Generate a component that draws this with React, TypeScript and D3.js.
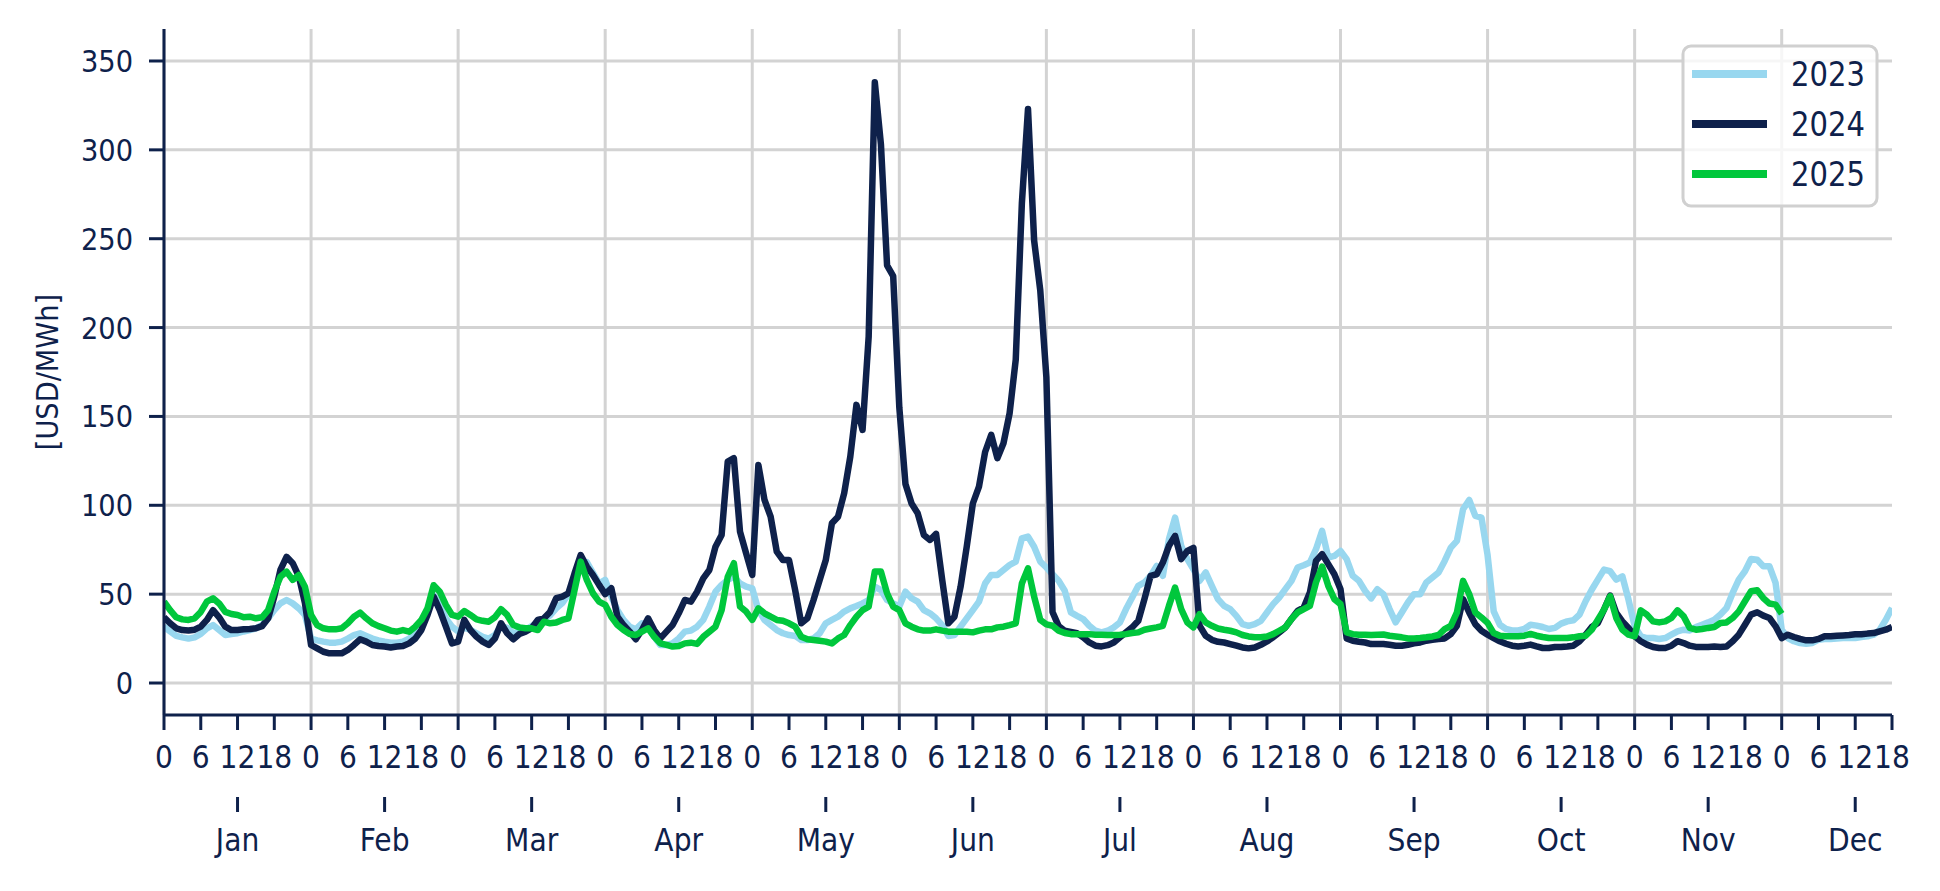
import * as d3 from "d3";
import { useEffect, useRef } from "react";

const months = ["Jan", "Feb", "Mar", "Apr", "May", "Jun", "Jul", "Aug", "Sep", "Oct", "Nov", "Dec"];
const hourTicks = [0, 6, 12, 18];
const yTicks = [0, 50, 100, 150, 200, 250, 300, 350];
const years = ["2023", "2024", "2025"];
const colors = ["#98d7ef", "#0e214b", "#00c73c"];

// average price by hour of day, one row per month (hours 0..23)
const prices2023 = [
  31.7, 29, 26.5, 25.7, 25, 25.7, 27.6, 30.8, 32.6, 29.8, 27, 27.6, 28, 29, 29.8, 30.8, 32.6, 36.4, 41, 44.8, 46.7, 44.8, 42, 38.3,
  25, 24, 23.3, 22.7, 22.7, 23.3, 25, 27, 28, 26.5, 25, 24, 23.3, 22.7, 22.7, 23.3, 25, 28, 32.6, 41, 49.5, 44, 36.4, 31.7,
  29, 31, 30, 28, 26, 25, 27, 32, 31, 28, 29, 30, 32, 34, 36, 38, 42, 45, 50, 60, 66, 68, 62, 56,
  58, 48.6, 41, 35.5, 31.7, 30.2, 33.6, 31.7, 26, 21.4, 21.4, 22.3, 25.1, 28.9, 29.5, 31.7, 35.5, 43, 51.4, 55.2, 58, 59.8, 56, 54.2,
  53.3, 41, 35.5, 32.6, 29.8, 28, 27, 26.5, 24.2, 24.2, 25.1, 28, 33.6, 35.5, 37.3, 40.2, 42, 43.3, 44.8, 46.7, 54.2, 52.3, 46.7, 44.8,
  43, 51.4, 47.7, 45.8, 41, 39.2, 36.4, 32.6, 26.5, 27, 31.7, 36.4, 41, 45.8, 56, 60.8, 60.8, 63.6, 66.4, 68.3, 81.4, 82.4, 76.7, 68.3,
  65, 61.2, 57.5, 51.9, 39.7, 37.8, 36, 32.2, 29.4, 28.5, 29.4, 31.3, 34.1, 41.6, 48.1, 54.7, 56.6, 60.3, 65.9, 60.3, 80.9, 93.1, 77.2, 69.7,
  64, 57.5, 62.2, 54.7, 47.2, 43.4, 41.6, 37.8, 33.1, 32.2, 33.1, 35, 39.7, 44.4, 48.1, 52.8, 57.5, 65, 66.3, 67.8, 75.3, 85.6, 70.6, 71.5,
  74.3, 69.7, 60.3, 57.5, 51.9, 47.6, 52.8, 50, 41.6, 34.1, 39.7, 45.3, 50, 50, 56.6, 59.4, 62.2, 68.7, 76.2, 80, 97.8, 103, 94, 93.1,
  72, 40.3, 32.8, 30.4, 29.6, 29.6, 30.4, 32.8, 32.3, 31.5, 30.4, 31, 33.4, 34.7, 35.3, 38.5, 46, 52.5, 58.2, 63.8, 62.9, 58.2, 60, 46.9,
  31.9, 26.3, 25.3, 25.3, 24.8, 25.3, 27.2, 29.1, 30, 29.6, 31.5, 32.8, 34.1, 35.6, 38.5, 42.2, 50.7, 58.2, 62.9, 69.8, 69.4, 65.7, 65.7, 56.3,
  30, 25.3, 23.5, 22.5, 22.1, 22.5, 24.4, 24.8, 24.8, 25, 25.3, 25.3, 25.3, 25.9, 26.3, 27.2, 30, 35.6, 42.2,
];

const prices2024 = [
  37, 33.6, 30.8, 29.8, 29.5, 30, 31.7, 35.5, 41, 37, 31.7, 29.8, 29.8, 30.2, 30.4, 30.8, 32, 36.4, 48.6, 63.6, 71, 67.4, 60, 45,
  21.4, 19.5, 17.6, 16.7, 16.7, 16.7, 18.6, 21.4, 24.6, 23.3, 21.4, 20.8, 20.5, 20, 20.5, 20.8, 22.3, 25, 29.8, 38.3, 48.6, 41, 31.7, 22.3,
  23.3, 35.5, 29.8, 26, 23.3, 21.4, 25, 33.6, 28, 24.6, 27.6, 28.9, 30.8, 35.5, 36.4, 40, 47.7, 48.6, 50.5, 61.7, 72, 65.5, 60.8, 55.2,
  50, 53.3, 37.3, 32.6, 28.9, 24.6, 29.8, 36.4, 29.8, 25.1, 28.9, 32.6, 39.2, 46.7, 45.8, 51.4, 58.9, 63.6, 76.7, 83.3, 124.6, 126.5, 85.2, 73,
  60.8, 122.7, 103, 93.6, 73.9, 69.2, 69.2, 52.3, 33.6, 36.4, 46.7, 58, 69.2, 89.9, 93.6, 106.8, 127.4, 156.5, 142.4, 195, 338, 303, 235, 229,
  155, 112, 101, 95.5, 83.3, 80.5, 83.9, 58, 33.6, 37.3, 54.2, 76.7, 101, 110.5, 130, 139.6, 126.5, 134.9, 151.8, 182, 270, 323, 249, 221,
  172, 40, 32, 29.4, 28.8, 28.1, 25.7, 22.8, 21, 20.6, 21.3, 22.8, 25.7, 28.5, 31.3, 35, 47.2, 60.3, 61.2, 67.8, 77.2, 82.8, 69.7, 74.3,
  76, 32.2, 26.6, 24.3, 23.2, 22.8, 21.9, 21, 20, 19.5, 20, 21.5, 23.4, 25.7, 28.5, 31.3, 36, 40.6, 42.5, 50.9, 68.7, 72.5, 66.9, 61.2,
  52.8, 25.1, 23.8, 23.2, 22.8, 21.9, 21.9, 21.9, 21.5, 21, 21, 21.5, 22.3, 22.8, 23.8, 24.3, 24.7, 25.1, 27.5, 32.2, 47.2, 39.7, 33.1, 29.4,
  27.2, 25.3, 23.5, 22.1, 21, 20.6, 21, 21.6, 20.6, 19.7, 19.7, 20.3, 20.3, 20.6, 21, 23.5, 27.2, 31.5, 33.8, 41.3, 49.2, 39.4, 34.7, 31,
  26.3, 23.5, 21.6, 20.3, 19.7, 19.7, 21, 23.5, 22.5, 21, 20.3, 20.3, 20.3, 20.6, 20.3, 20.6, 23.5, 27.2, 32.8, 38.5, 39.8, 37.9, 36.6, 31.9,
  25.3, 27.2, 25.9, 24.8, 24, 24, 24.8, 26.3, 26.3, 26.6, 26.8, 27, 27.4, 27.4, 27.8, 28.1, 29.1, 30, 31.5,
];

const prices2025 = [
  45.8, 41, 37, 35.8, 35.5, 36.4, 40, 45.8, 47.7, 44.8, 40, 38.8, 38.3, 37, 37.3, 36.4, 37, 41, 51.4, 59.8, 62.7, 58, 60.8, 54.2,
  38.3, 32.6, 30.8, 30.2, 30.2, 30.8, 33.6, 37.3, 39.6, 36.4, 33.6, 32, 30.8, 29.5, 28.9, 29.8, 28.9, 31.7, 35.5, 42, 55, 51.4, 44, 38.3,
  37.3, 40.5, 38.3, 35.8, 35, 34.5, 37, 41.5, 38.3, 32.6, 31.3, 30.8, 30.8, 29.8, 34.5, 33.6, 34, 35.5, 36.4, 52.3, 68.3, 58, 50.5, 45.8,
  44, 37.3, 32.6, 29.8, 27.6, 27, 28.9, 30.8, 26, 22.3, 21.4, 20.5, 20.8, 22.3, 22.7, 22, 26, 28.9, 31.7, 41, 59.8, 67.4, 43, 40.2,
  35.5, 42, 39.2, 37.3, 35.5, 35, 33.6, 31.7, 26, 24.6, 24.2, 23.8, 23.3, 22.3, 25.1, 27, 32.6, 37.3, 41, 43, 62.7, 62.7, 50.5, 43,
  41, 33.6, 31.7, 30.2, 29.5, 29.5, 30.2, 29.5, 28.9, 28.9, 28.9, 28.9, 28.5, 29.5, 30.2, 30.2, 31.3, 31.7, 32.6, 33.6, 56, 64.5, 48.6, 35.5,
  33, 32.2, 29.4, 28.1, 27.5, 27.5, 27.5, 27.5, 27.2, 27.2, 27, 27, 27.2, 27.5, 28.1, 28.5, 30, 30.7, 31.3, 32.2, 43.4, 53.7, 41.6, 34.1,
  31.3, 38.8, 34.1, 32.2, 30.7, 30, 29.4, 28.5, 27, 26.2, 25.7, 25.7, 26.2, 27.5, 29.4, 31.3, 36, 39.7, 41.6, 43.4, 56.6, 65.5, 54.7, 47.2,
  44.4, 28.5, 27.5, 27.2, 27.2, 27, 27.2, 27.3, 26.6, 26.2, 25.7, 25.1, 25.1, 25.3, 25.7, 26.2, 27, 30.3, 32.2, 39.7, 57.5, 50, 39.7, 36.9,
  33.8, 28.1, 26.6, 26.3, 26.3, 26.3, 26.6, 27.6, 26.6, 25.9, 25.3, 25.3, 25.3, 25.3, 25.7, 26.3, 26.6, 30, 35.6, 41.3, 48.8, 36.6, 30, 27.2,
  26.3, 40.9, 38.5, 34.7, 34.1, 34.7, 36.6, 40.9, 37.5, 31, 30, 30.4, 31, 31.5, 33.8, 34.1, 36.6, 40.3, 46, 51.6, 52.2, 47.8, 44.7, 44.1,
  39,
];

const series = [prices2023, prices2024, prices2025];

const W = 1940;
const H = 891;
const ink = "#0e214b";
const font = "'DejaVu Sans', sans-serif";
const squeeze = 0.88; // the reference glyphs are narrower than plain DejaVu

export default function App() {
  const svgRef = useRef<SVGSVGElement | null>(null);

  useEffect(() => {
    if (!svgRef.current) return;
    const svg = d3.select(svgRef.current);
    svg.selectAll("*").remove();

    const left = 164, right = 1892, top = 29, bottom = 715;
    const lastHour = 11 * 24 + 18;

    const x = d3.scaleLinear().domain([0, lastHour]).range([left, right]);
    const y = d3.scaleLinear().domain([-18, 368]).range([bottom, top]);

    const label = (
      g: d3.Selection<SVGGElement, unknown, null, undefined>,
      tx: number, ty: number, str: string, size: number, anchor: string, rot = 0
    ) =>
      g.append("text")
        .attr("transform", `translate(${tx},${ty}) rotate(${rot}) scale(${squeeze},1)`)
        .attr("text-anchor", anchor)
        .attr("font-size", size)
        .attr("font-family", font)
        .attr("fill", ink)
        .text(str);

    svg.append("rect").attr("width", W).attr("height", H).attr("fill", "#fff");

    // grid
    const grid = svg.append("g").attr("stroke", "#d3d3d3").attr("stroke-width", 3);
    yTicks.forEach(t => {
      grid.append("line").attr("x1", left).attr("x2", right).attr("y1", y(t)).attr("y2", y(t));
    });
    months.forEach((_, m) => {
      grid.append("line").attr("x1", x(m * 24)).attr("x2", x(m * 24)).attr("y1", top).attr("y2", bottom);
    });

    // lines
    svg.append("clipPath").attr("id", "plot-clip")
      .append("rect").attr("x", left).attr("y", top).attr("width", right - left).attr("height", bottom - top);

    const line = d3.line<number>().x((_, i) => x(i)).y(d => y(d));
    series.forEach((vals, k) => {
      svg.append("path")
        .attr("d", line(vals))
        .attr("clip-path", "url(#plot-clip)")
        .attr("fill", "none")
        .attr("stroke", colors[k])
        .attr("stroke-width", 6.5)
        .attr("stroke-linejoin", "round");
    });

    // y axis
    const ya = svg.append("g");
    ya.append("line").attr("x1", left).attr("x2", left).attr("y1", top).attr("y2", bottom)
      .attr("stroke", ink).attr("stroke-width", 3);
    yTicks.forEach(t => {
      ya.append("line").attr("x1", left - 15).attr("x2", left).attr("y1", y(t)).attr("y2", y(t))
        .attr("stroke", ink).attr("stroke-width", 3);
      label(ya, left - 31, y(t) + 11, String(t), 31, "end");
    });
    label(ya, 58, (top + bottom) / 2, "[USD/MWh]", 31, "middle", -90);

    // x axis: hours
    const xa = svg.append("g");
    xa.append("line").attr("x1", left).attr("x2", right).attr("y1", bottom).attr("y2", bottom)
      .attr("stroke", ink).attr("stroke-width", 3);
    months.forEach((_, m) => {
      hourTicks.forEach(h => {
        const i = m * 24 + h;
        if (i > lastHour) return;
        xa.append("line").attr("x1", x(i)).attr("x2", x(i)).attr("y1", bottom).attr("y2", bottom + 15)
          .attr("stroke", ink).attr("stroke-width", 3);
        label(xa, x(i), bottom + 53, String(h), 32, "middle");
      });
    });

    // x axis: months
    months.forEach((name, m) => {
      const i = m * 24 + 12;
      xa.append("line").attr("x1", x(i)).attr("x2", x(i)).attr("y1", 797).attr("y2", 812)
        .attr("stroke", ink).attr("stroke-width", 3);
      label(xa, x(i), 851, name, 32, "middle");
    });

    // legend
    const lg = svg.append("g");
    lg.append("rect").attr("x", 1683).attr("y", 46).attr("width", 194).attr("height", 160).attr("rx", 8)
      .attr("fill", "#fff").attr("fill-opacity", 0.8).attr("stroke", "#d0d0d0").attr("stroke-width", 3);
    years.forEach((yr, k) => {
      const ly = 74 + k * 50;
      lg.append("line").attr("x1", 1692).attr("x2", 1767).attr("y1", ly).attr("y2", ly)
        .attr("stroke", colors[k]).attr("stroke-width", 8);
      label(lg, 1791, ly + 12, yr, 33, "start");
    });
  }, []);

  return (
    <svg
      ref={svgRef}
      width={W}
      height={H}
      style={{ position: "absolute", left: 0, top: 0, display: "block" }}
    />
  );
}
